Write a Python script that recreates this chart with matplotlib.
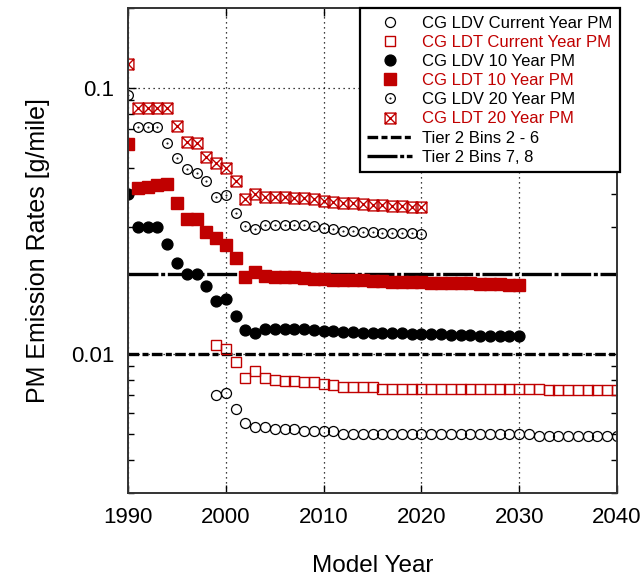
import numpy as np
import matplotlib
matplotlib.use('Agg')
import matplotlib.pyplot as plt
from matplotlib.path import Path
from matplotlib.ticker import LogLocator, NullFormatter, FixedLocator

plt.rcParams['font.family'] = ['Liberation Sans', 'DejaVu Sans']

# ---------------------------------------------------------------------
# PM emission rates [g/mile] by model year
# ---------------------------------------------------------------------
years_current = list(range(1999, 2041))
years_10 = list(range(1990, 2031))
years_20 = list(range(1990, 2021))

ldv_current = [0.0070, 0.0071, 0.0062, 0.0055, 0.0053, 0.0053, 0.0052, 0.0052, 0.0052, 0.0051,
               0.0051, 0.0051, 0.0051, 0.0050, 0.0050, 0.0050, 0.0050, 0.0050, 0.0050, 0.0050,
               0.0050, 0.0050, 0.0050, 0.0050, 0.0050, 0.0050, 0.0050, 0.0050, 0.0050, 0.0050,
               0.0050, 0.0050, 0.0050, 0.0049, 0.0049, 0.0049, 0.0049, 0.0049, 0.0049, 0.0049,
               0.0049, 0.0049]
ldt_current = [0.0108, 0.0104, 0.0093, 0.0081, 0.0086, 0.0081, 0.0080, 0.0079, 0.0079, 0.0078,
               0.0078, 0.0077, 0.0076, 0.0075, 0.0075, 0.0075, 0.0075, 0.0074, 0.0074, 0.0074,
               0.0074, 0.0074, 0.0074, 0.0074, 0.0074, 0.0074, 0.0074, 0.0074, 0.0074, 0.0074,
               0.0074, 0.0074, 0.0074, 0.0074, 0.0073, 0.0073, 0.0073, 0.0073, 0.0073, 0.0073,
               0.0073, 0.0073]
ldv_10 = [0.040, 0.030, 0.030, 0.030, 0.026, 0.022, 0.020, 0.020, 0.018, 0.0158,
          0.0161, 0.0139, 0.0123, 0.0120, 0.0124, 0.0124, 0.0124, 0.0124, 0.0124, 0.0123,
          0.0122, 0.0122, 0.0121, 0.0121, 0.0120, 0.0120, 0.0120, 0.0120, 0.0120, 0.0119,
          0.0119, 0.0119, 0.0119, 0.0118, 0.0118, 0.0118, 0.0117, 0.0117, 0.0117, 0.0117,
          0.0117]
ldt_10 = [0.0616, 0.0420, 0.0425, 0.0430, 0.0436, 0.0370, 0.0322, 0.0322, 0.0287, 0.0273,
          0.0257, 0.0229, 0.0195, 0.0203, 0.0196, 0.0195, 0.0195, 0.0194, 0.0193, 0.0192,
          0.0191, 0.0190, 0.0190, 0.0189, 0.0189, 0.0188, 0.0188, 0.0187, 0.0187, 0.0186,
          0.0186, 0.0185, 0.0185, 0.0184, 0.0184, 0.0184, 0.0183, 0.0183, 0.0183, 0.0182,
          0.0182]
ldv_20 = [0.094, 0.0713, 0.0713, 0.0713, 0.062, 0.0546, 0.0496, 0.0479, 0.0447, 0.0389,
          0.0395, 0.0339, 0.0303, 0.0295, 0.0306, 0.0306, 0.0306, 0.0305, 0.0304, 0.0302,
          0.0298, 0.0294, 0.0291, 0.0289, 0.0288, 0.0287, 0.0286, 0.0285, 0.0284, 0.0284,
          0.0283]
ldt_20 = [0.123, 0.0841, 0.0841, 0.0841, 0.0841, 0.072, 0.0627, 0.0621, 0.055, 0.0523,
          0.050, 0.0447, 0.0383, 0.040, 0.0388, 0.0388, 0.0388, 0.0387, 0.0386, 0.0384,
          0.0377, 0.0372, 0.0370, 0.0368, 0.0366, 0.0364, 0.0362, 0.0361, 0.0359, 0.0358,
          0.0357]

# Tier 2 standards
tier2_years = [1990, 2040]
tier2_bins_2_6 = 0.01
tier2_bins_7_8 = 0.02

red = '#c00000'

# square with an X inside
crossed_square = Path(
    [(-1, -1), (1, -1), (1, 1), (-1, 1), (-1, -1), (-1, -1), (1, 1), (-1, 1), (1, -1)],
    [Path.MOVETO, Path.LINETO, Path.LINETO, Path.LINETO, Path.CLOSEPOLY,
     Path.MOVETO, Path.LINETO, Path.MOVETO, Path.LINETO])

# circle with a small dot in the middle
dotted_circle = Path.make_compound_path(Path.unit_circle(),
                                        Path.circle((0, 0), 0.08))

fig = plt.figure(figsize=(6.44, 5.79), dpi=100)
ax = fig.add_axes([0.199, 0.149, 0.759, 0.837])

ax.plot(tier2_years, [tier2_bins_2_6] * 2, color='black', lw=2.4,
        dashes=(3.2, 1.0, 1.8, 1.0), label='Tier 2 Bins 2 - 6', zorder=2)
ax.plot(tier2_years, [tier2_bins_7_8] * 2, color='black', lw=2.4,
        dashes=(9, 0.8, 1.2, 0.8), label='Tier 2 Bins 7, 8', zorder=2)

ax.plot(years_current, ldv_current, ls='none', marker='o', ms=7.2,
        mfc='none', mec='black', mew=0.9, label='CG LDV Current Year PM')
ax.plot(years_current, ldt_current, ls='none', marker='s', ms=7.6,
        mfc='none', mec=red, mew=1.0, label='CG LDT Current Year PM')
ax.plot(years_10, ldv_10, ls='none', marker='o', ms=7.8,
        mfc='black', mec='black', label='CG LDV 10 Year PM')
ax.plot(years_10, ldt_10, ls='none', marker='s', ms=8.2,
        mfc=red, mec=red, label='CG LDT 10 Year PM')
ax.plot(years_20, ldv_20, ls='none', marker=dotted_circle, ms=7.0,
        mfc='none', mec='black', mew=0.9, label='CG LDV 20 Year PM')
ax.plot(years_20, ldt_20, ls='none', marker=crossed_square, ms=7.8,
        mfc='none', mec=red, mew=1.0, label='CG LDT 20 Year PM')

ax.set_yscale('log')
ax.set_xlim(1990, 2040)
ax.set_ylim(0.003, 0.2)

ax.xaxis.set_major_locator(FixedLocator([1990, 2000, 2010, 2020, 2030, 2040]))
ax.yaxis.set_major_locator(FixedLocator([0.01, 0.1]))
ax.yaxis.set_minor_locator(LogLocator(base=10, subs=np.arange(2, 10)))
ax.yaxis.set_minor_formatter(NullFormatter())
ax.set_yticklabels(['0.01', '0.1'])

ax.grid(True, which='major', color='black', ls=(0, (1, 3)), lw=0.9)
ax.tick_params(which='both', direction='in', top=True, right=True,
               labelsize=16, width=1.0)
ax.tick_params(which='major', length=6, pad=10)
ax.tick_params(which='minor', length=4)
for s in ax.spines.values():
    s.set_linewidth(1.4)
    s.set_color('#333333')

ax.set_xlabel('Model Year', fontsize=17.5, labelpad=20)
ax.set_ylabel('PM Emission Rates [g/mile]', fontsize=18, labelpad=15)

handles, labels = ax.get_legend_handles_labels()
order = [2, 3, 4, 5, 6, 7, 0, 1]
leg = ax.legend([handles[i] for i in order], [labels[i] for i in order],
                loc='upper right', bbox_to_anchor=(1.006, 1.0), fontsize=12,
                frameon=True, fancybox=False, framealpha=1, edgecolor='black',
                labelspacing=0.25, handlelength=2.7, handletextpad=0.6,
                borderpad=0.45, borderaxespad=0)
leg.get_frame().set_linewidth(1.6)
for txt, lab in zip(leg.get_texts(), [labels[i] for i in order]):
    if 'LDT' in lab:
        txt.set_color(red)

fig.savefig('out.png', dpi=100)
